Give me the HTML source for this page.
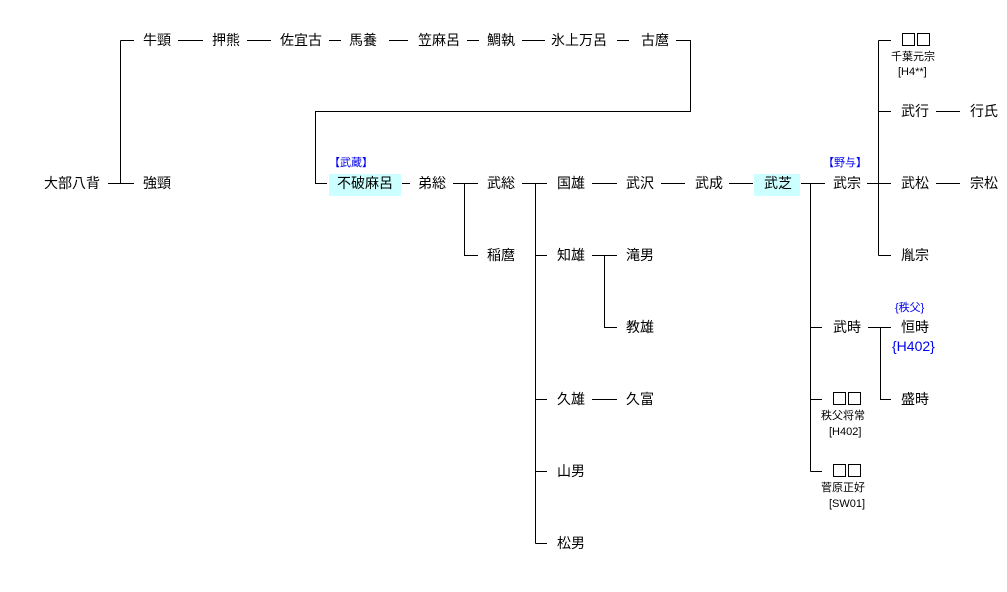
<!DOCTYPE html>
<html><head><meta charset="utf-8"><style>
body{margin:0;width:1007px;height:592px;background:#fff;position:relative;overflow:hidden;font-family:"Liberation Sans","Noto Sans CJK JP",sans-serif;}
.t{position:absolute;font-size:14px;line-height:16px;white-space:nowrap;color:#000;}
.s{position:absolute;font-size:11px;line-height:13px;white-space:nowrap;color:#000;}
.b{color:#0000ee;}
.hl{position:absolute;background:#ccffff;}
.sq{position:absolute;width:11px;height:11px;border:1px solid #000;}
svg{position:absolute;left:0;top:0;}
</style></head><body>
<div class="hl" style="left:329px;top:174px;width:72px;height:22px"></div>
<div class="hl" style="left:754px;top:174px;width:46px;height:22px"></div>
<svg width="1007" height="592" stroke="#000" stroke-width="1" fill="none" shape-rendering="crispEdges">
<path d="M120.5 40.5H134M120.5 40.5V183.5M108 183.5H134M178 40.5H203M247 40.5H271M329 40.5H341M389 40.5H408M467 40.5H479M522 40.5H545M617 40.5H629M676 40.5H690.5V111.5H315.5V183.5H327"/>
<path d="M402 183.5H410M453 183.5H478M464.5 183.5V255.5H478M522 183.5H547M535.5 183.5V543.5M535.5 255.5H547M535.5 399.5H547M535.5 471.5H547M535.5 543.5H547"/>
<path d="M592 183.5H617M661 183.5H685M729 183.5H753M801 183.5H825M810.5 183.5V471.5M810.5 327.5H822M810.5 399.5H822M810.5 471.5H822"/>
<path d="M867 183.5H891M878.5 40.5V255.5M878.5 40.5H891M878.5 111.5H891M878.5 255.5H891M936 183.5H960M936 111.5H960"/>
<path d="M592 255.5H617M604.5 255.5V327.5H617M592 399.5H617M868 327.5H891M880.5 327.5V399.5H891"/>
</svg>
<div class="t" style="left:143px;top:32px">牛頸</div>
<div class="t" style="left:212px;top:32px">押熊</div>
<div class="t" style="left:280px;top:32px">佐宜古</div>
<div class="t" style="left:349px;top:32px">馬養</div>
<div class="t" style="left:418px;top:32px">笠麻呂</div>
<div class="t" style="left:487px;top:32px">鯛執</div>
<div class="t" style="left:551px;top:32px">氷上万呂</div>
<div class="t" style="left:641px;top:32px">古麿</div>
<div class="t" style="left:44px;top:175px">大部八背</div>
<div class="t" style="left:143px;top:175px">強頸</div>
<div class="s b" style="left:329px;top:157px">【武蔵】</div>
<div class="t" style="left:337px;top:175px">不破麻呂</div>
<div class="t" style="left:418px;top:175px">弟総</div>
<div class="t" style="left:487px;top:175px">武総</div>
<div class="t" style="left:487px;top:247px">稲麿</div>
<div class="t" style="left:557px;top:175px">国雄</div>
<div class="t" style="left:626px;top:175px">武沢</div>
<div class="t" style="left:695px;top:175px">武成</div>
<div class="t" style="left:764px;top:175px">武芝</div>
<div class="s b" style="left:823px;top:157px">【野与】</div>
<div class="t" style="left:833px;top:175px">武宗</div>
<div class="t" style="left:901px;top:175px">武松</div>
<div class="t" style="left:970px;top:175px">宗松</div>
<div class="sq" style="left:902px;top:33px"></div><div class="sq" style="left:917px;top:33px"></div>
<div class="s" style="left:891px;top:51px">千葉元宗</div>
<div class="s" style="left:898px;top:66px">[H4**]</div>
<div class="t" style="left:901px;top:103px">武行</div>
<div class="t" style="left:970px;top:103px">行氏</div>
<div class="t" style="left:901px;top:247px">胤宗</div>
<div class="t" style="left:557px;top:247px">知雄</div>
<div class="t" style="left:626px;top:247px">滝男</div>
<div class="t" style="left:626px;top:319px">教雄</div>
<div class="t" style="left:557px;top:391px">久雄</div>
<div class="t" style="left:626px;top:391px">久富</div>
<div class="t" style="left:557px;top:463px">山男</div>
<div class="t" style="left:557px;top:535px">松男</div>
<div class="t" style="left:833px;top:319px">武時</div>
<div class="s b" style="left:895px;top:302px">{秩父}</div>
<div class="t" style="left:901px;top:319px">恒時</div>
<div class="t b" style="left:892px;top:338px">{H402}</div>
<div class="t" style="left:901px;top:391px">盛時</div>
<div class="sq" style="left:833px;top:392px"></div><div class="sq" style="left:848px;top:392px"></div>
<div class="s" style="left:821px;top:410px">秩父将常</div>
<div class="s" style="left:829px;top:426px">[H402]</div>
<div class="sq" style="left:833px;top:464px"></div><div class="sq" style="left:848px;top:464px"></div>
<div class="s" style="left:821px;top:482px">菅原正好</div>
<div class="s" style="left:829px;top:498px">[SW01]</div>
</body></html>
